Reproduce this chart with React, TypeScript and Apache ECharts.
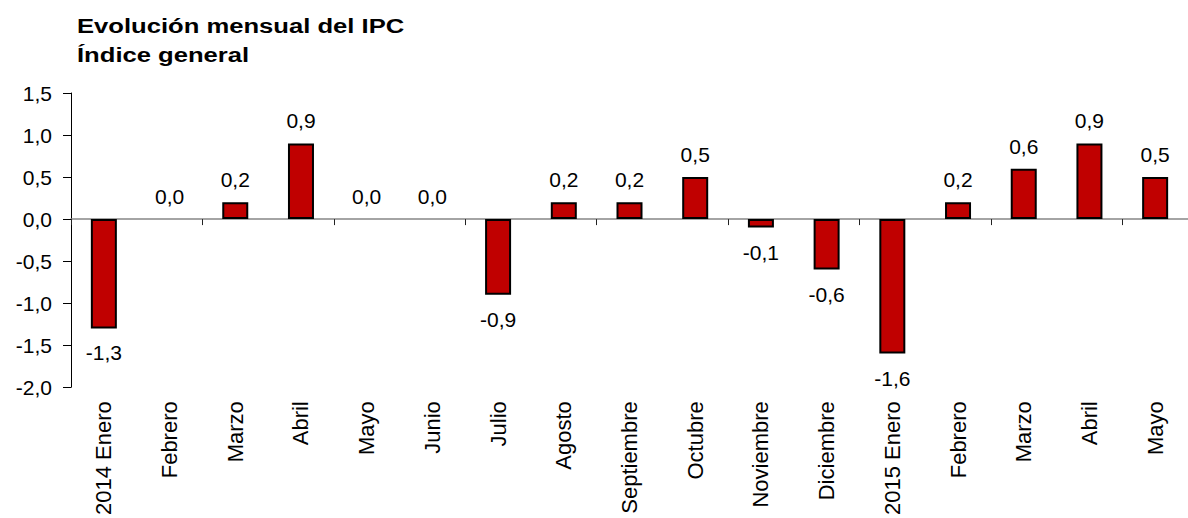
import React, { useEffect, useRef } from "react";
import * as echarts from "echarts";

const categories = [
  "2014 Enero", "Febrero", "Marzo", "Abril", "Mayo", "Junio", "Julio", "Agosto",
  "Septiembre", "Octubre", "Noviembre", "Diciembre", "2015 Enero", "Febrero",
  "Marzo", "Abril", "Mayo",
];
const values = [-1.3, 0.0, 0.2, 0.9, 0.0, 0.0, -0.9, 0.2, 0.2, 0.5, -0.1, -0.6, -1.6, 0.2, 0.6, 0.9, 0.5];
const titleLines = ["Evolución mensual del IPC", "Índice general"];

const fmt = (v: number) => v.toFixed(1).replace(".", ",");
const FONT = "'Liberation Sans', Arial, sans-serif";

export default function App() {
  const ref = useRef<HTMLDivElement>(null);
  useEffect(() => {
    document.body.style.margin = "0";
    document.body.style.overflow = "hidden";
    document.documentElement.style.overflow = "hidden";
    const chart = echarts.init(ref.current!, null, { renderer: "svg" });
    chart.setOption({
      animation: false,
      graphic: titleLines.map((t, i) => ({
        type: "text",
        x: 77,
        y: 25.7 + i * 29,
        scaleX: 1.22,
        style: {
          text: t,
          fontFamily: FONT,
          fontSize: 21,
          fontWeight: "bold",
          fill: "#000",
          verticalAlign: "middle",
          align: "left",
        },
      })),
      grid: { left: 71, top: 93, width: 1125, height: 298, containLabel: false },
      xAxis: [
        {
          type: "category",
          data: categories,
          position: "bottom",
          axisLine: { onZero: true, lineStyle: { color: "#868686", width: 1.5 } },
          axisTick: { show: true, length: 6, lineStyle: { color: "#222" } },
          axisLabel: { show: false },
        },
        {
          type: "category",
          data: categories,
          position: "bottom",
          axisLine: { show: false, onZero: false },
          axisTick: { show: false },
          axisLabel: {
            show: true,
            rotate: 90,
            interval: 0,
            margin: 14,
            fontFamily: FONT,
            fontSize: 22,
            color: "#000",
          },
        },
      ],
      yAxis: {
        type: "value",
        min: -2,
        max: 1.5,
        interval: 0.5,
        splitLine: { show: false },
        axisLine: { show: true, lineStyle: { color: "#000", width: 1 } },
        axisTick: { show: true, inside: false, length: 8, lineStyle: { color: "#000" } },
        axisLabel: {
          formatter: (v: number) => fmt(v),
          margin: 19,
          fontFamily: FONT,
          fontSize: 21,
          color: "#000",
        },
      },
      series: [
        {
          type: "bar",
          xAxisIndex: 0,
          barWidth: 26,
          data: values.map((v) => ({
            value: v,
            itemStyle: { borderWidth: v === 0 ? 0 : 2 },
            label: {
              position: v < 0 ? "bottom" : "top",
              distance: v < 0 ? 14 : 12,
            },
          })),
          itemStyle: { color: "#C00000", borderColor: "#000", borderWidth: 2 },
          label: {
            show: true,
            formatter: (p: any) => fmt(p.value),
            fontFamily: FONT,
            fontSize: 21,
            color: "#000",
          },
        },
      ],
    });
    return () => chart.dispose();
  }, []);
  return <div ref={ref} style={{ width: 1188, height: 518, overflow: "hidden" }} />;
}
